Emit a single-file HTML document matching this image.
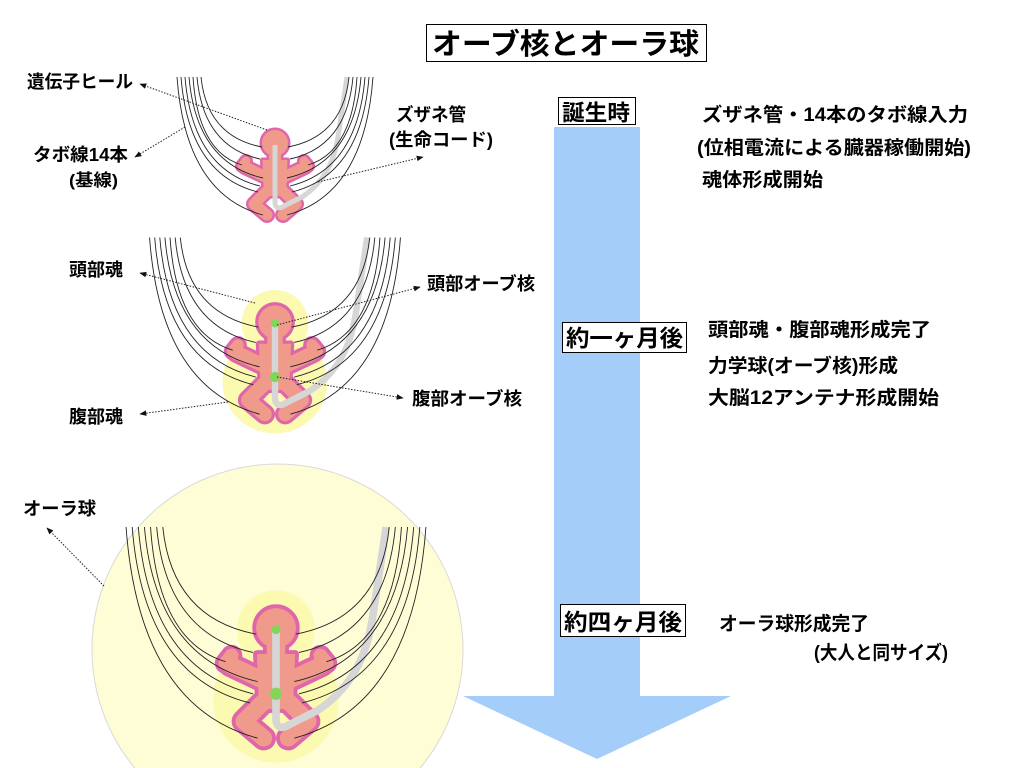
<!DOCTYPE html>
<html>
<head>
<meta charset="utf-8">
<style>
html,body{margin:0;padding:0;background:#fff;width:1024px;height:768px;overflow:hidden;}
svg{display:block;overflow:hidden;}
text{font-family:"Liberation Sans","Noto Sans CJK JP",sans-serif;font-weight:bold;fill:#000;}
</style>
</head>
<body>
<svg width="1024" height="768" viewBox="0 0 1024 768" xmlns="http://www.w3.org/2000/svg">
<defs>
  <marker id="ah" viewBox="0 0 10 10" refX="9" refY="5" markerWidth="7" markerHeight="7" markerUnits="userSpaceOnUse" orient="auto">
    <path d="M0,1 L10,5 L0,9 Z" fill="#111"/>
  </marker>
  <g id="fig">
    <!-- baby outline layer -->
    <g stroke="#e066aa" fill="#e066aa" stroke-linecap="round" stroke-linejoin="round">
      <circle cx="0" cy="0" r="13" stroke-width="5"/>
      <rect x="-6" y="8" width="12" height="12" stroke-width="5"/>
      <path d="M-12.5,17 L12.5,17 L11,53 L-11,53 Z" stroke-width="5"/>
      <g fill="none">
        <path d="M-9,34 L-30,24" stroke-width="16"/>
        <path d="M-33,23 L-29,18" stroke-width="14"/>
        <path d="M9,34 L30,24" stroke-width="16"/>
        <path d="M33,23 L29,18" stroke-width="14"/>
        <path d="M-7,47 L-21,61 L-8,72" stroke-width="16"/>
        <path d="M7,47 L21,61 L8,72" stroke-width="16"/>
      </g>
    </g>
    <!-- baby fill layer -->
    <g stroke="#f09a8c" fill="#f09a8c" stroke-linecap="round" stroke-linejoin="round">
      <circle cx="0" cy="0" r="13" stroke="none"/>
      <rect x="-6" y="8" width="12" height="12" stroke="none"/>
      <path d="M-12.5,17 L12.5,17 L11,53 L-11,53 Z" stroke="none"/>
      <g fill="none">
        <path d="M-9,34 L-30,24" stroke-width="11"/>
        <path d="M-33,23 L-29,18" stroke-width="9"/>
        <path d="M9,34 L30,24" stroke-width="11"/>
        <path d="M33,23 L29,18" stroke-width="9"/>
        <path d="M-7,47 L-21,61 L-8,72" stroke-width="11"/>
        <path d="M7,47 L21,61 L8,72" stroke-width="11"/>
      </g>
    </g>
    <!-- zuzane tube -->
    <path d="M0,2 L0,60 Q1,68 9,63 L27,54 C45,42 58,25 63,-6 L72,-66" fill="none" stroke="#d6d6d6" stroke-width="5" stroke-linejoin="round"/>
    <!-- tabo lines -->
    <g fill="none" stroke="#222" stroke-width="0.9">
      <path vector-effect="non-scaling-stroke" d="M-98,-66 Q-89.4,51.3 -12,72"/>
      <path vector-effect="non-scaling-stroke" d="M-94,-66 Q-86.3,31.75 -17,49"/>
      <path vector-effect="non-scaling-stroke" d="M-90,-66 Q-82.5,26.65 -15,43"/>
      <path vector-effect="non-scaling-stroke" d="M-86,-66 Q-78.6,19.85 -12,35"/>
      <path vector-effect="non-scaling-stroke" d="M-82,-66 Q-77.1,8.8 -33,22"/>
      <path vector-effect="non-scaling-stroke" d="M-78,-66 Q-71.7,3.7 -15,16"/>
      <path vector-effect="non-scaling-stroke" d="M-74,-66 Q-67.9,-6.5 -13,4"/>
      <path vector-effect="non-scaling-stroke" d="M98,-66 Q89.4,51.3 12,72"/>
      <path vector-effect="non-scaling-stroke" d="M94,-66 Q86.3,31.75 17,49"/>
      <path vector-effect="non-scaling-stroke" d="M90,-66 Q82.5,26.65 15,43"/>
      <path vector-effect="non-scaling-stroke" d="M86,-66 Q78.6,19.85 12,35"/>
      <path vector-effect="non-scaling-stroke" d="M82,-66 Q77.1,8.8 33,22"/>
      <path vector-effect="non-scaling-stroke" d="M78,-66 Q71.7,3.7 15,16"/>
      <path vector-effect="non-scaling-stroke" d="M74,-66 Q67.9,-6.5 13,4"/>
    </g>
  </g>
</defs>

<!-- Big aura sphere (clipped at the bottom edge) -->
<path d="M134.8,768 A185.5,185.5 0 1 1 420.2,768 Z" fill="#fefdd6" stroke="none"/>
<path d="M134.8,768 A185.5,185.5 0 1 1 420.2,768" fill="none" stroke="#d9d9d9" stroke-width="1"/>

<!-- Blue timeline arrow -->
<polygon points="554,127 640,127 640,696 731,696 597,759 463,696 554,696" fill="#a4cdf9"/>

<!-- Figure 1 -->
<use href="#fig" transform="translate(275,143)"/>

<!-- Figure 2 -->
<g transform="translate(275,322) scale(1.28)">
  <circle cx="0" cy="1" r="26" fill="#fcf9b0"/>
  <ellipse cx="0" cy="47" rx="41" ry="40" fill="#fcf9b0"/>
</g>
<use href="#fig" transform="translate(275,322) scale(1.28)"/>
<g transform="translate(275,322) scale(1.28)">
  <circle cx="0" cy="1" r="3.3" fill="#84d45c"/>
  <circle cx="0" cy="43" r="4" fill="#84d45c"/>
</g>

<!-- Figure 3 -->
<g transform="translate(276,628) scale(1.53)">
  <circle cx="0" cy="1" r="25.5" fill="#fcf9b0"/>
  <ellipse cx="0" cy="47" rx="41" ry="41" fill="#fcf9b0"/>
</g>
<use href="#fig" transform="translate(276,628) scale(1.53)"/>
<g transform="translate(276,628) scale(1.53)">
  <circle cx="0" cy="1" r="3" fill="#84d45c"/>
  <circle cx="0" cy="43" r="4" fill="#84d45c"/>
</g>

<!-- Leader arrows -->
<g fill="none" stroke="#222" stroke-width="1" stroke-dasharray="1.5,1.5" marker-end="url(#ah)">
  <line x1="267" y1="130" x2="140" y2="84"/>
  <line x1="185" y1="127" x2="135" y2="157"/>
  <line x1="318" y1="182" x2="423" y2="157"/>
  <line x1="255" y1="303" x2="140" y2="273"/>
  <line x1="228" y1="402" x2="140" y2="414"/>
  <line x1="277" y1="325" x2="420" y2="287"/>
  <line x1="277" y1="377" x2="403" y2="398"/>
  <line x1="104" y1="586" x2="47" y2="528"/>
</g>

<!-- Title -->
<rect x="426.5" y="24.5" width="280" height="37" fill="#fff" stroke="#000" stroke-width="1"/>
<text x="432" y="54" font-size="29" textLength="267" lengthAdjust="spacingAndGlyphs">オーブ核とオーラ球</text>

<!-- Timeline boxes -->
<rect x="558.5" y="97.5" width="77" height="27" fill="#fff" stroke="#000" stroke-width="1"/>
<text x="562" y="120.5" font-size="22" textLength="68" lengthAdjust="spacingAndGlyphs">誕生時</text>

<rect x="562.5" y="322.5" width="124" height="30" fill="#fff" stroke="#000" stroke-width="1"/>
<text x="566" y="346" font-size="23" textLength="117" lengthAdjust="spacingAndGlyphs">約一ヶ月後</text>

<rect x="560.5" y="604.5" width="125" height="32" fill="#fff" stroke="#000" stroke-width="1"/>
<text x="564" y="630" font-size="23" textLength="118" lengthAdjust="spacingAndGlyphs">約四ヶ月後</text>

<!-- Left/figure labels -->
<text x="27" y="88" font-size="18" textLength="106" lengthAdjust="spacingAndGlyphs">遺伝子ヒール</text>
<text x="33" y="161" font-size="18" textLength="95" lengthAdjust="spacingAndGlyphs">タボ線14本</text>
<text x="69" y="186" font-size="17" textLength="49" lengthAdjust="spacingAndGlyphs">(基線)</text>
<text x="396" y="121" font-size="18" textLength="70" lengthAdjust="spacingAndGlyphs">ズザネ管</text>
<text x="389" y="146" font-size="18" textLength="104" lengthAdjust="spacingAndGlyphs">(生命コード)</text>
<text x="69" y="276" font-size="18" textLength="54" lengthAdjust="spacingAndGlyphs">頭部魂</text>
<text x="69" y="423" font-size="18" textLength="54" lengthAdjust="spacingAndGlyphs">腹部魂</text>
<text x="23" y="515" font-size="18" textLength="73" lengthAdjust="spacingAndGlyphs">オーラ球</text>
<text x="427" y="290" font-size="18" textLength="108" lengthAdjust="spacingAndGlyphs">頭部オーブ核</text>
<text x="412" y="405" font-size="18" textLength="110" lengthAdjust="spacingAndGlyphs">腹部オーブ核</text>

<!-- Right descriptions -->
<text x="702" y="121" font-size="19" textLength="266" lengthAdjust="spacingAndGlyphs">ズザネ管・14本のタボ線入力</text>
<text x="697" y="154" font-size="19" textLength="274" lengthAdjust="spacingAndGlyphs">(位相電流による臓器稼働開始)</text>
<text x="702" y="186" font-size="19" textLength="121" lengthAdjust="spacingAndGlyphs">魂体形成開始</text>

<text x="708" y="336" font-size="19" textLength="223" lengthAdjust="spacingAndGlyphs">頭部魂・腹部魂形成完了</text>
<text x="708" y="372" font-size="19" textLength="190" lengthAdjust="spacingAndGlyphs">力学球(オーブ核)形成</text>
<text x="708" y="404" font-size="19" textLength="231" lengthAdjust="spacingAndGlyphs">大脳12アンテナ形成開始</text>

<text x="719" y="630" font-size="19" textLength="150" lengthAdjust="spacingAndGlyphs">オーラ球形成完了</text>
<text x="814" y="659" font-size="19" textLength="134" lengthAdjust="spacingAndGlyphs">(大人と同サイズ)</text>
</svg>
</body>
</html>
